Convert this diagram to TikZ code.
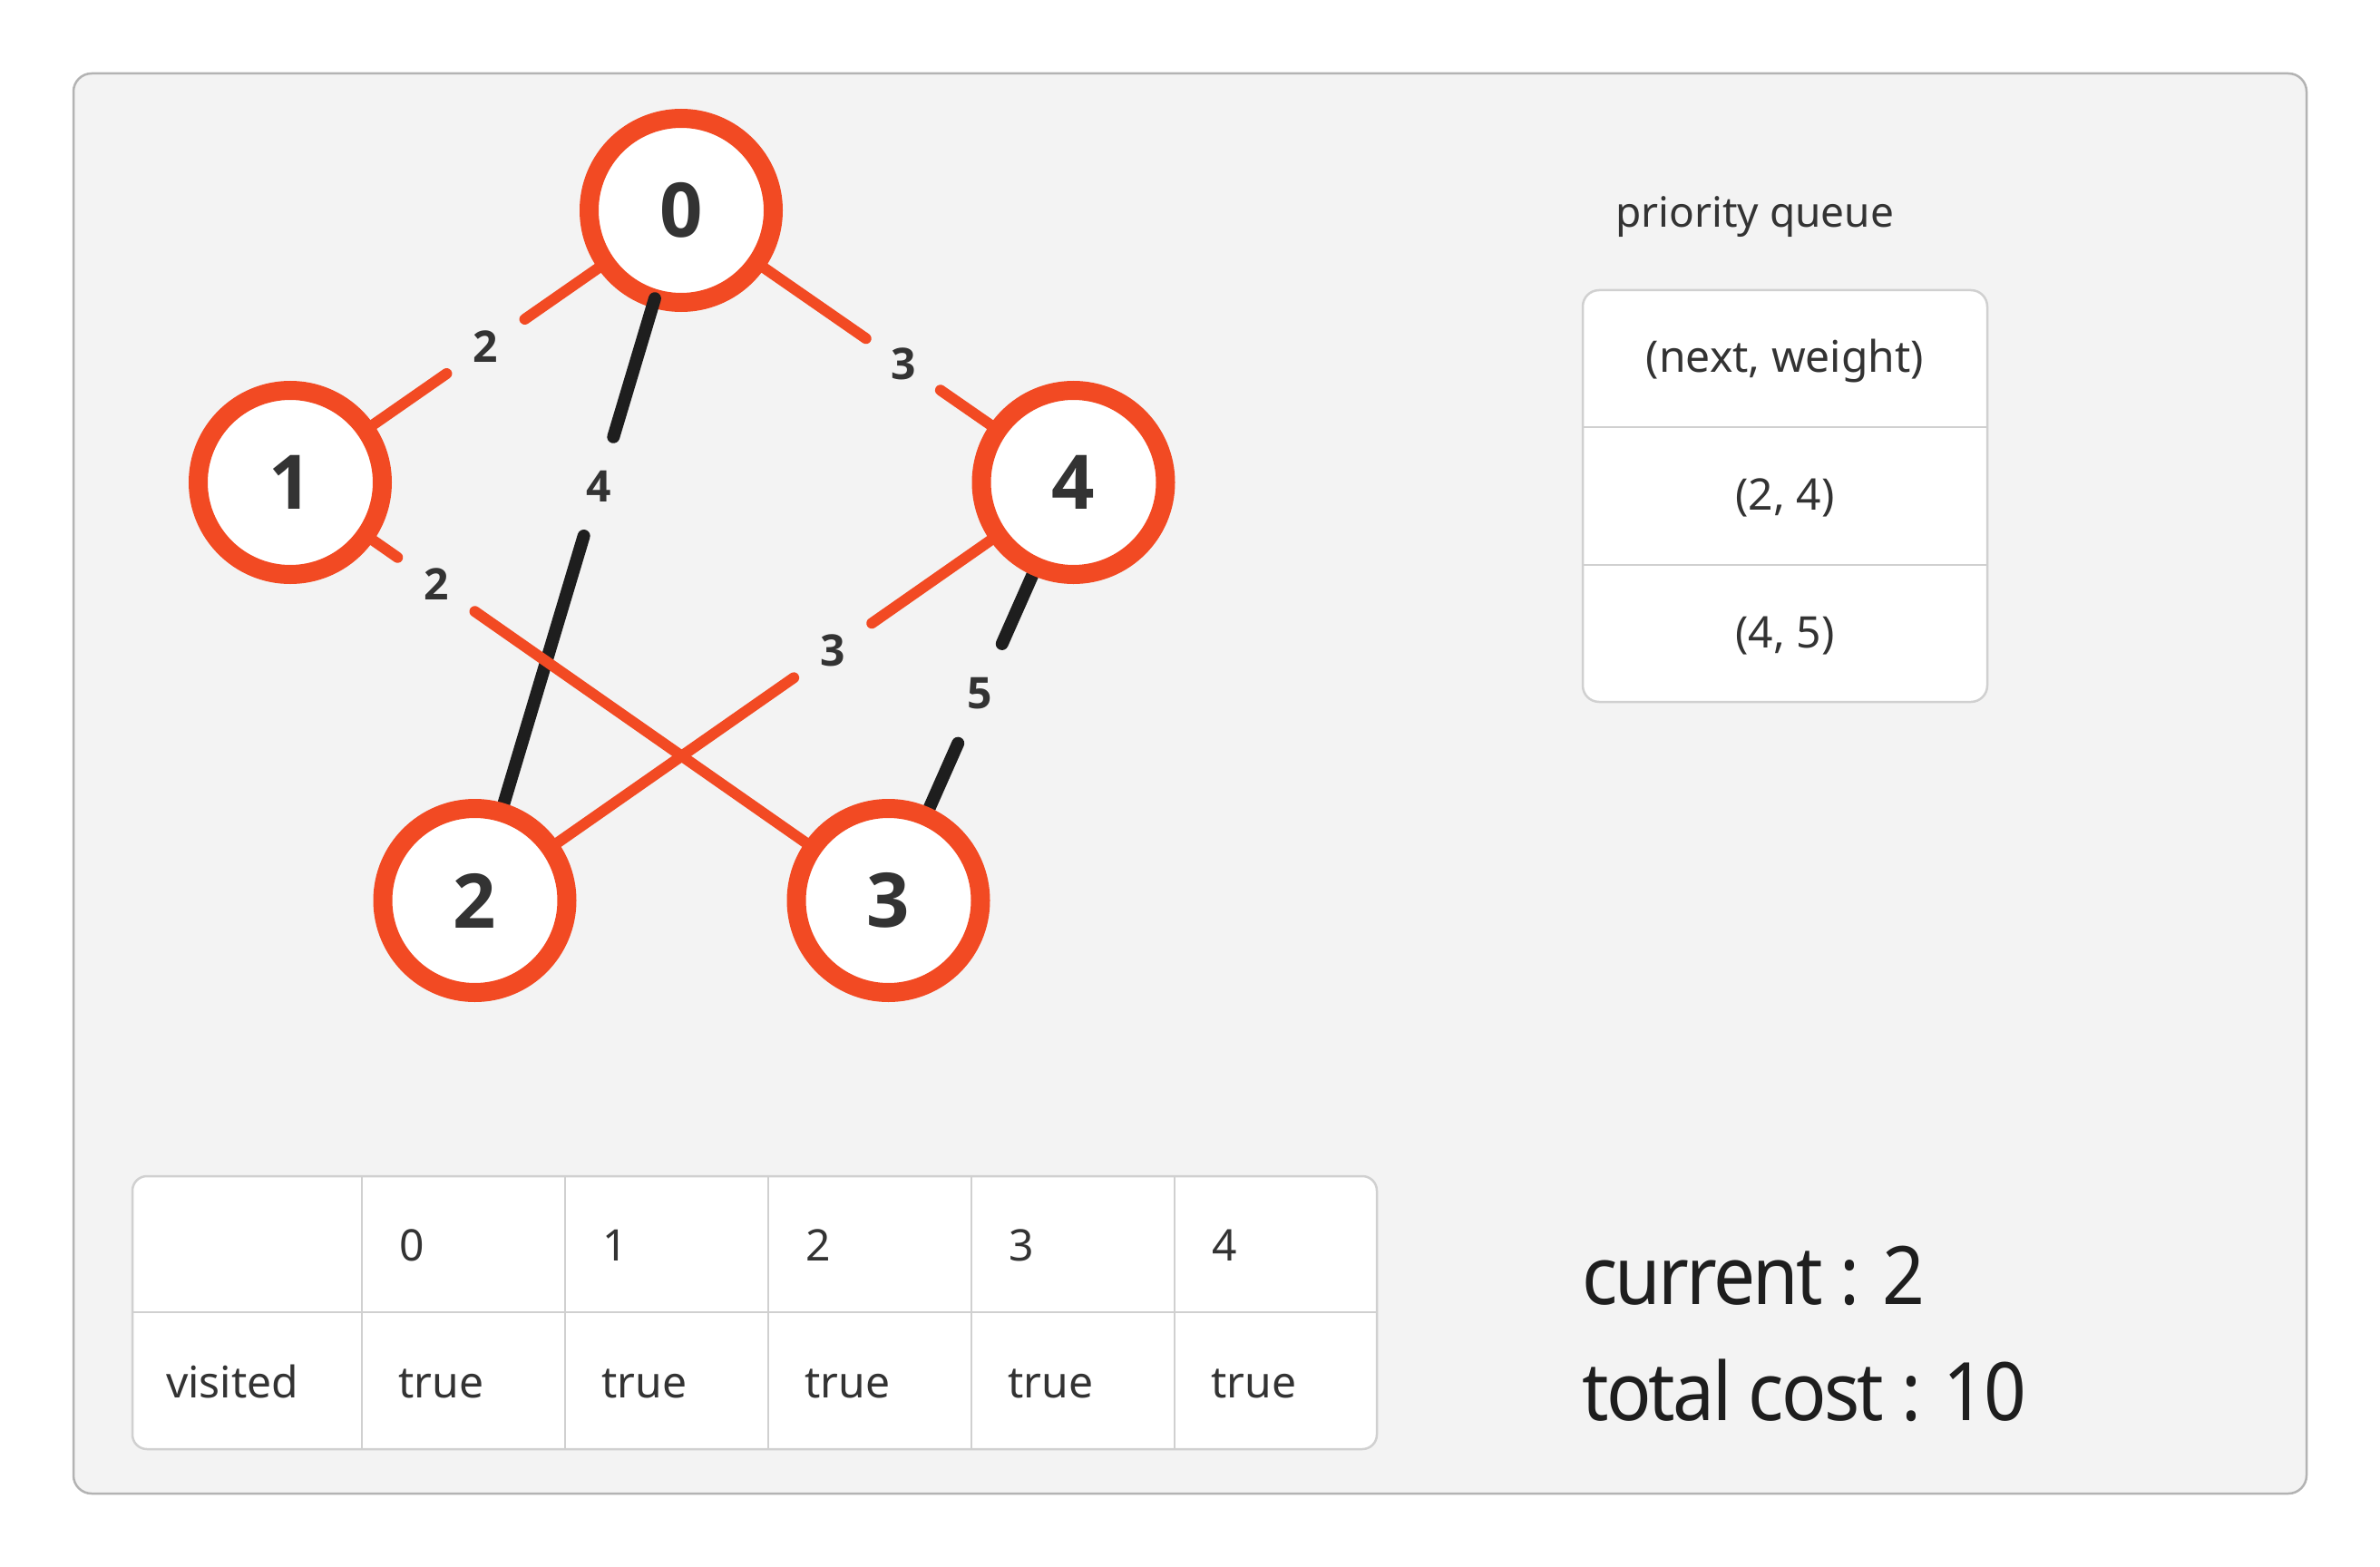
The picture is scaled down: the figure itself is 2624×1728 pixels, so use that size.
\documentclass[tikz,border=0pt]{standalone}
\usepackage{fontspec}
\setmainfont{Noto Sans}
\newfontfamily\digitfont{Open Sans}
\newfontfamily\bigfont{Noto Sans}[FakeStretch=0.92,LetterSpace=-3]
\usetikzlibrary{calc}
\definecolor{orn}{HTML}{F24A23}
\definecolor{blk}{HTML}{1E1E1E}
\definecolor{txt}{HTML}{333333}
\definecolor{panelbg}{HTML}{F3F3F3}
\definecolor{panelline}{HTML}{B3B3B3}
\definecolor{gridline}{HTML}{D0D0D0}
\tikzset{
  vtx/.style={circle, draw=orn, line width=21pt, fill=white, minimum size=203pt, inner sep=0pt, outer sep=0pt,
    text=txt, font=\fontsize{83}{90}\digitfont\bfseries},
  oedge/.style={draw=orn, line width=12pt, line cap=round},
  bedge/.style={draw=blk, line width=14pt, line cap=round},
  wlabel/.style={text=txt, inner sep=0pt, font=\fontsize{48}{52}\digitfont\bfseries},
  celltext/.style={text=txt, inner sep=0pt, anchor=base west, font=\fontsize{48}{52}\selectfont},
  qtext/.style={text=txt, inner sep=0pt, font=\fontsize{48}{52}\selectfont},
  bigtext/.style={text=blk, inner sep=0pt, anchor=base west, font=\fontsize{89}{95}\bigfont},
  gridbox/.style={draw=gridline, line width=2.5pt, fill=white},
  gridrule/.style={draw=gridline, line width=2pt},
}
\begin{document}
\begin{tikzpicture}[x=1pt,y=-1pt]
\useasboundingbox (0,0) rectangle (2624,1728);
% panel
\draw[fill=panelbg, draw=panelline, line width=2.5pt, rounded corners=20pt] (81,81) rectangle (2543,1647);

% coordinates of vertices
\coordinate (c0) at (751,232);
\coordinate (c1) at (320,532);
\coordinate (c4) at (1183.5,532);
\coordinate (c2) at (523.5,993);
\coordinate (c3) at (979.5,993);

\node[vtx] (n0) at (c0) {0};

% label positions
\coordinate (l01) at ($(c0)!0.5!(c1)$);
\coordinate (l04) at ($(c0)!0.566!(c4)$);
\coordinate (l02) at ($(c0)!0.4!(c2)$);
\coordinate (l13) at ($(c1)!0.244!(c3)$);
\coordinate (l42) at ($(c4)!0.402!(c2)$);
\coordinate (l43) at ($(c4)!0.505!(c3)$);

% invisible vertex boundaries for edge ends
\node[vtx, draw=none, fill=none, text opacity=0] (m1) at (c1) {};
\node[vtx, draw=none, fill=none, text opacity=0] (m2) at (c2) {};
\node[vtx, draw=none, fill=none, text opacity=0] (m3) at (c3) {};
\node[vtx, draw=none, fill=none, text opacity=0] (m4) at (c4) {};

% edges with gaps
\draw[oedge, shorten >=52.5pt] (n0) -- (l01);
\draw[oedge, shorten >=52.5pt] (m1) -- (l01);
\draw[oedge, shorten >=50pt] (n0) -- (l04);
\draw[oedge, shorten >=50pt] (m4) -- (l04);
\draw[bedge, shorten >=57pt] (n0) -- (l02);
\draw[bedge, shorten >=57pt] (m2) -- (l02);
\draw[oedge, shorten >=52pt] (m1) -- (l13);
\draw[oedge, shorten >=52pt] (m3) -- (l13);
\draw[oedge, shorten >=52.5pt] (m4) -- (l42);
\draw[oedge, shorten >=52.5pt] (m2) -- (l42);
\draw[bedge, shorten >=60pt] (m4) -- (l43);
\draw[bedge, shorten >=60pt] (m3) -- (l43);

% edge weights
\node[wlabel] (w01) at (l01) {2};
\node[wlabel] (w04) at (l04) {3};
\node[wlabel] (w02) at (l02) {4};
\node[wlabel] (w13) at (l13) {2};
\node[wlabel] (w42) at (l42) {3};
\node[wlabel] (w43) at (l43) {5};

% remaining vertices
\node[vtx] (n1) at (c1) {1};
\node[vtx] (n4) at (c4) {4};
\node[vtx] (n2) at (c2) {2};
\node[vtx] (n3) at (c3) {3};

% priority queue
\node[qtext, anchor=base west, font=\fontsize{46}{50}\selectfont] (pqt) at (1781,251) {priority queue};
\draw[gridbox, rounded corners=18pt] (1745,320) rectangle (2191,774);
\draw[gridrule] (1745,471) -- (2191,471);
\draw[gridrule] (1745,623) -- (2191,623);
\node[qtext] (q0) at (1968,398) {(next, weight)};
\node[qtext] (q1) at (1968,549) {(2, 4)};
\node[qtext] (q2) at (1968,701) {(4, 5)};

% visited table
\draw[gridbox, rounded corners=16pt] (146,1297) rectangle (1518,1598);
\draw[gridrule] (146,1447) -- (1518,1447);
\foreach \x in {399,623,847,1071,1295} \draw[gridrule] (\x,1297) -- (\x,1598);
\node[celltext] (h0) at (440,1390) {0};
\node[celltext] (h1) at (664,1390) {1};
\node[celltext] (h2) at (888,1390) {2};
\node[celltext] (h3) at (1112,1390) {3};
\node[celltext] (h4) at (1336,1390) {4};
\node[celltext] (vl) at (183,1541) {visited};
\node[celltext] (v0) at (439,1541) {true};
\node[celltext] (v1) at (663,1541) {true};
\node[celltext] (v2) at (887,1541) {true};
\node[celltext] (v3) at (1111,1541) {true};
\node[celltext] (v4) at (1335,1541) {true};

% status
\node[bigtext] (cur) at (1744,1438) {current : 2};
\node[bigtext] (tot) at (1744,1566) {total cost : 10};
\end{tikzpicture}
\end{document}
